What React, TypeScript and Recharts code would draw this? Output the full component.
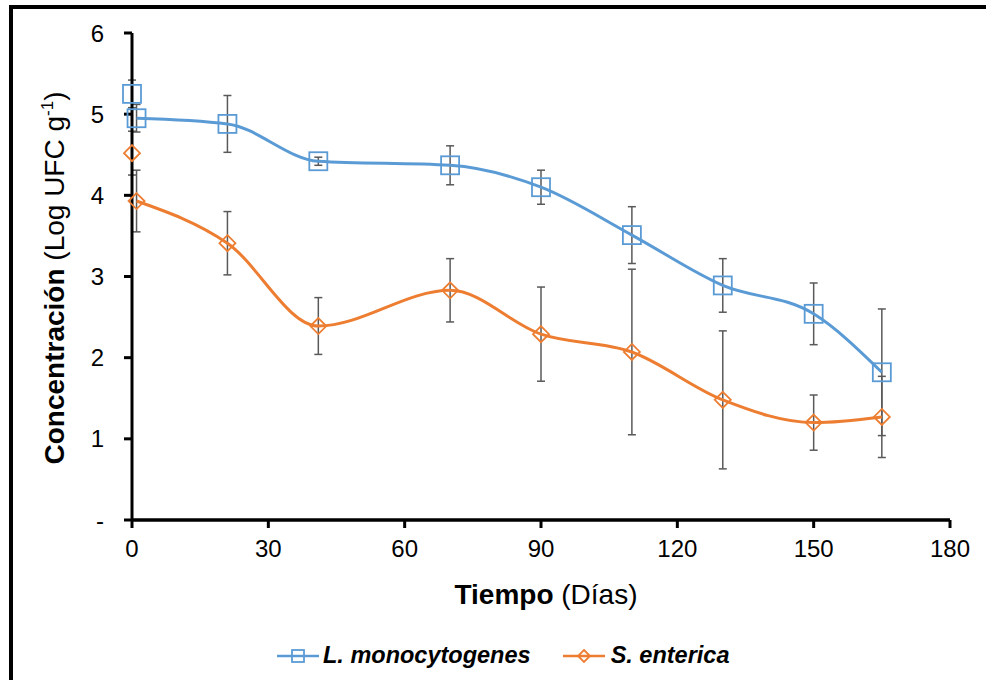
import React from "react";
import {
  ComposedChart,
  Line,
  Scatter,
  XAxis,
  YAxis,
  ErrorBar,
  Legend,
} from "recharts";

// sampling days (day 0 is drawn as a loose point, the curves start at day 1)
const days = [1, 21, 41, 70, 90, 110, 130, 150, 165];
const listeria = [4.95, 4.88, 4.42, 4.37, 4.1, 3.51, 2.89, 2.54, 1.82];
const listeriaSd = [0.17, 0.35, 0.05, 0.24, 0.21, 0.35, 0.33, 0.38, 0.78];
const salmonella = [3.93, 3.41, 2.39, 2.83, 2.29, 2.07, 1.48, 1.2, 1.27];
const salmonellaSd = [0.38, 0.39, 0.35, 0.39, 0.58, 1.02, 0.85, 0.34, 0.5];

const listeriaDay0 = [{ day: 0, value: 5.25, err: 0.17 }];
const salmonellaDay0 = [{ day: 0, value: 4.52, err: 0.27 }];

const seriesNames = ["L. monocytogenes", "S. enterica"];
const xTicks = [0, 30, 60, 90, 120, 150, 180];
const yTicks = [0, 1, 2, 3, 4, 5, 6];

const BLUE = "#5B9BD5";
const ORANGE = "#ED7D31";
const ERR = "#595959";
const FONT = "'Liberation Sans', Arial, sans-serif";

const chartData = days.map((day, i) => ({
  day,
  listeria: listeria[i],
  listeriaErr: listeriaSd[i],
  salmonella: salmonella[i],
  salmonellaErr: salmonellaSd[i],
}));

const square = (cx: number, cy: number, key: string, s = 9) => (
  <rect
    key={key}
    x={cx - s}
    y={cy - s}
    width={s * 2}
    height={s * 2}
    fill="none"
    stroke={BLUE}
    strokeWidth={1.8}
  />
);

const diamond = (cx: number, cy: number, key: string, r = 8) => (
  <path
    key={key}
    d={`M${cx},${cy - r}L${cx + r},${cy}L${cx},${cy + r}L${cx - r},${cy}Z`}
    fill="none"
    stroke={ORANGE}
    strokeWidth={1.8}
  />
);

const SquareDot = (props: any) => {
  const { cx, cy, index } = props;
  if (cx == null || cy == null) return <g key={`sq-${index}`} />;
  return square(cx, cy, `sq-${index}`);
};

const DiamondDot = (props: any) => {
  const { cx, cy, index } = props;
  if (cx == null || cy == null) return <g key={`dm-${index}`} />;
  return diamond(cx, cy, `dm-${index}`);
};

const XTitle = (props: any) => {
  const { viewBox } = props;
  return (
    <text
      x={546}
      y={viewBox.y + 84}
      textAnchor="middle"
      fontFamily={FONT}
      fontSize={28}
      fill="#000"
    >
      <tspan fontWeight="bold">Tiempo </tspan>
      <tspan>(Días)</tspan>
    </text>
  );
};

const YTitle = () => (
  <text
    x={0}
    y={0}
    transform="translate(64, 278) rotate(-90)"
    textAnchor="middle"
    fontFamily={FONT}
    fontSize={28}
    fill="#000"
  >
    <tspan fontWeight="bold">Concentración </tspan>
    <tspan>(Log UFC g</tspan>
    <tspan fontSize={17} dy={-11}>
      -1
    </tspan>
    <tspan dy={11}>)</tspan>
  </text>
);

const LegendContent = () => (
  <div
    style={{
      display: "flex",
      alignItems: "center",
      marginLeft: 277,
      fontFamily: FONT,
      fontSize: 23.5,
      fontWeight: "bold",
      fontStyle: "italic",
      color: "#000",
    }}
  >
    <svg width={42} height={20} style={{ marginRight: 4 }}>
      <line x1={0} y1={10} x2={42} y2={10} stroke={BLUE} strokeWidth={2.5} />
      {square(21, 10, "lg-sq", 6)}
    </svg>
    <span>{seriesNames[0]}</span>
    <svg width={42} height={20} style={{ marginLeft: 32, marginRight: 6 }}>
      <line x1={0} y1={10} x2={42} y2={10} stroke={ORANGE} strokeWidth={2.5} />
      {diamond(21, 10, "lg-dm", 6)}
    </svg>
    <span>{seriesNames[1]}</span>
  </div>
);

export default function App() {
  return (
    <div
      style={{
        position: "absolute",
        top: 0,
        left: 0,
        width: 986,
        height: 680,
        overflow: "hidden",
        background: "#fff",
      }}
    >
      <div
        style={{
          position: "absolute",
          left: 9,
          top: 5,
          width: 1100,
          height: 800,
          border: "4px solid #000",
        }}
      />
      <div style={{ position: "absolute", top: 0, left: 0 }}>
        <ComposedChart
          width={986}
          height={680}
          data={chartData}
          margin={{ top: 33, right: 36, bottom: 100, left: 2 }}
        >
          <XAxis
            dataKey="day"
            type="number"
            domain={[0, 180]}
            ticks={xTicks}
            height={60}
            axisLine={{ stroke: "#000", strokeWidth: 3.5 }}
            tickLine={{ stroke: "#000", strokeWidth: 3 }}
            tickSize={8}
            tickMargin={12}
            tick={{ fill: "#000", fontSize: 24, fontFamily: FONT }}
            label={<XTitle />}
          />
          <YAxis
            type="number"
            domain={[0, 6]}
            ticks={yTicks}
            width={130}
            axisLine={{ stroke: "#000", strokeWidth: 3 }}
            tickLine={{ stroke: "#000", strokeWidth: 3 }}
            tickSize={8}
            tickMargin={20}
            tick={{ fill: "#000", fontSize: 24, fontFamily: FONT }}
            tickFormatter={(v: number) => (v === 0 ? "-" : String(v))}
            label={<YTitle />}
          />
          <Line
            type="monotone"
            dataKey="listeria"
            name={seriesNames[0]}
            stroke={BLUE}
            strokeWidth={3}
            dot={SquareDot}
            activeDot={false}
            isAnimationActive={false}
          >
            <ErrorBar dataKey="listeriaErr" width={4} stroke={ERR} strokeWidth={1.5} />
          </Line>
          <Line
            type="monotone"
            dataKey="salmonella"
            name={seriesNames[1]}
            stroke={ORANGE}
            strokeWidth={3}
            dot={DiamondDot}
            activeDot={false}
            isAnimationActive={false}
          >
            <ErrorBar dataKey="salmonellaErr" width={4} stroke={ERR} strokeWidth={1.5} />
          </Line>
          <Scatter
            data={listeriaDay0}
            dataKey="value"
            legendType="none"
            isAnimationActive={false}
            shape={(p: any) => square(p.cx, p.cy, "sq-0")}
          >
            <ErrorBar dataKey="err" direction="y" width={4} stroke={ERR} strokeWidth={1.5} />
          </Scatter>
          <Scatter
            data={salmonellaDay0}
            dataKey="value"
            legendType="none"
            isAnimationActive={false}
            shape={(p: any) => diamond(p.cx, p.cy, "dm-0")}
          >
            <ErrorBar dataKey="err" direction="y" width={4} stroke={ERR} strokeWidth={1.5} />
          </Scatter>
          <Legend
            layout="horizontal"
            verticalAlign="middle"
            align="center"
            content={<LegendContent />}
            wrapperStyle={{ top: 642, left: 0, width: 986 }}
          />
        </ComposedChart>
      </div>
    </div>
  );
}
